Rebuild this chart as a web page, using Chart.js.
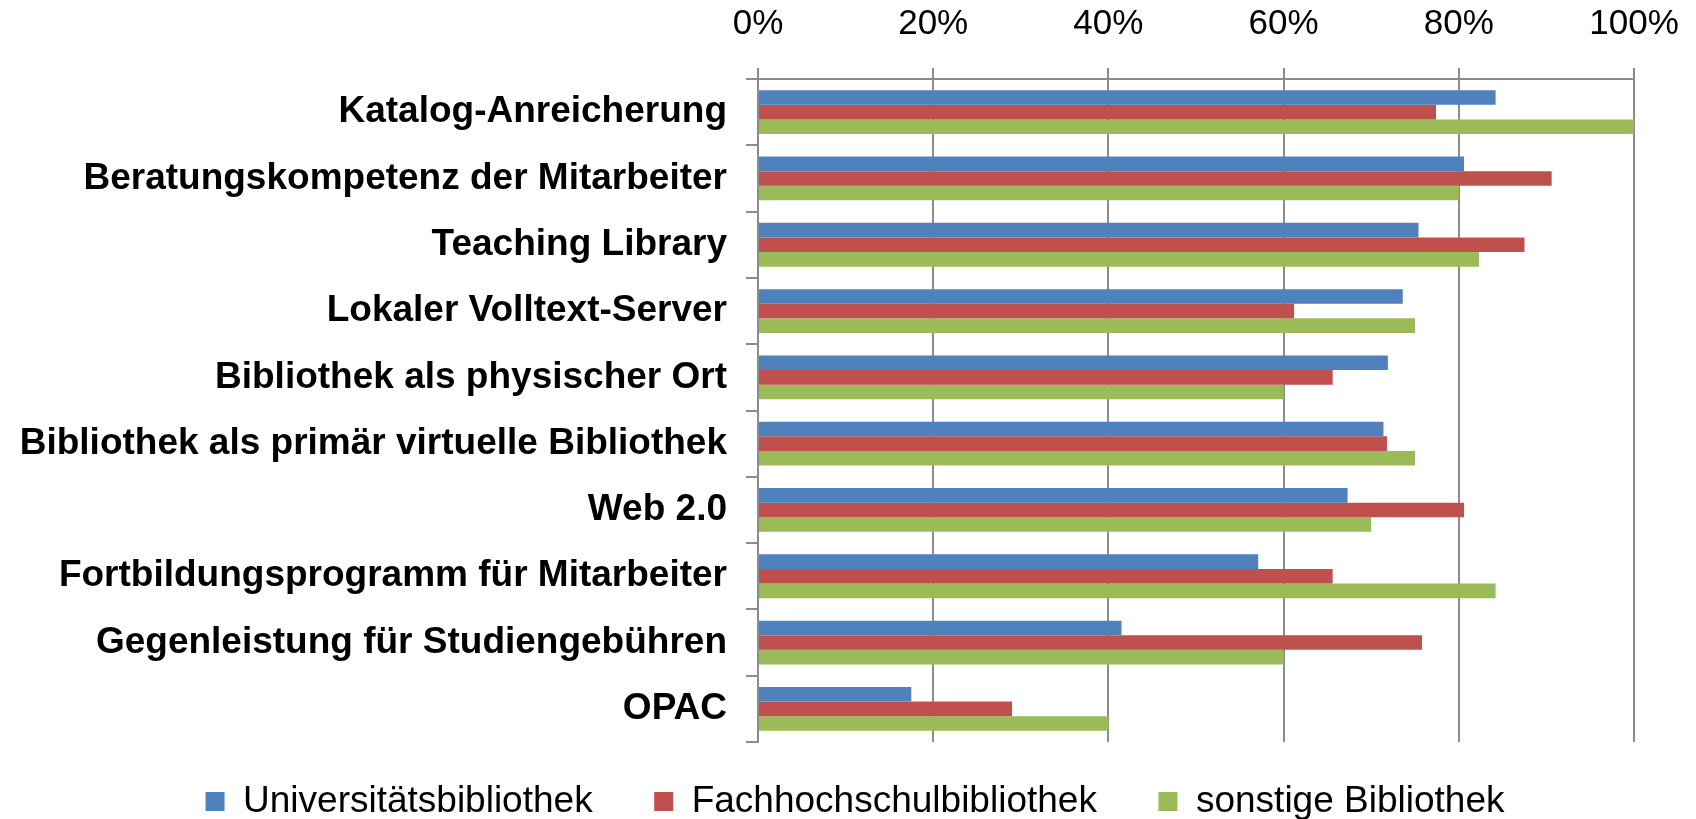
<!DOCTYPE html>
<html>
<head>
<meta charset="utf-8">
<script src="https://cdn.jsdelivr.net/npm/chart.js@4/dist/chart.umd.min.js"></script>
<style>
  body { margin: 0; background: #fff; }
  #wrap { width: 1696px; height: 819px; }
</style>
</head>
<body>
<div id="wrap"><canvas id="bar-chart"></canvas></div>
<script>
// Categories (top to bottom)
const categories = [
  "Katalog-Anreicherung",
  "Beratungskompetenz der Mitarbeiter",
  "Teaching Library",
  "Lokaler Volltext-Server",
  "Bibliothek als physischer Ort",
  "Bibliothek als primär virtuelle Bibliothek",
  "Web 2.0",
  "Fortbildungsprogramm für Mitarbeiter",
  "Gegenleistung für Studiengebühren",
  "OPAC"
];
const seriesNames = ["Universitätsbibliothek", "Fachhochschulbibliothek", "sonstige Bibliothek"];
// Values in percent
const uniValues = [84.2, 80.6, 75.4, 73.6, 71.9, 71.4, 67.3, 57.1, 41.5, 17.5];
const fhValues = [77.4, 90.6, 87.5, 61.2, 65.6, 71.8, 80.6, 65.6, 75.8, 29.0];
const otherValues = [100, 80, 82.3, 75, 60, 75, 70, 84.2, 60, 40];
const xTicks = [0, 20, 40, 60, 80, 100];

const colors = ["#4F81BD", "#C0504D", "#9BBB59"];
const gridColor = "#8C8C8C";

Chart.defaults.font.family = "'Liberation Sans', Arial, sans-serif";
Chart.defaults.color = "#000";

const padLeft = 14;

const ctx = document.getElementById("bar-chart").getContext("2d");
const barChart = new Chart(ctx, {
  type: "bar",
  data: {
    labels: categories,
    datasets: [uniValues, fhValues, otherValues].map((vals, i) => ({
      label: seriesNames[i],
      data: vals,
      backgroundColor: colors[i],
      borderWidth: 0,
      categoryPercentage: 0.66,
      barPercentage: 1.0
    }))
  },
  options: {
    indexAxis: "y",
    responsive: true,
    maintainAspectRatio: false,
    animation: false,
    layout: { padding: { top: 0, right: 0, bottom: -11, left: padLeft } },
    scales: {
      x: {
        position: "top",
        min: 0,
        max: 100,
        afterBuildTicks: (scale) => {
          scale.ticks = xTicks.map((v) => ({ value: v }));
        },
        afterFit: (scale) => {
          scale.height = 79;
          // plot area ends at x = 1634
          scale.paddingLeft = 0;
          scale.paddingRight = 62;
        },
        ticks: {
          padding: 23,
          font: { size: 35 },
          callback: (v) => v + "%"
        },
        grid: { color: gridColor, lineWidth: 2, tickLength: 11 },
        border: { color: gridColor, width: 2 }
      },
      y: {
        // plot area starts at x = 758
        afterFit: (scale) => { scale.width = 758 - padLeft; },
        ticks: {
          padding: 19,
          font: { size: 37, weight: "bold" }
        },
        grid: { drawOnChartArea: false, color: gridColor, lineWidth: 2, tickLength: 12 },
        border: { color: gridColor, width: 2 }
      }
    },
    plugins: {
      legend: {
        position: "bottom",
        labels: {
          boxWidth: 19,
          boxHeight: 19,
          padding: 41,
          font: { size: 37 },
          // a little extra room after each item, like the original legend
          generateLabels: (chart) => {
            const items = Chart.defaults.plugins.legend.labels.generateLabels(chart);
            items.forEach((item, i) => {
              if (i < items.length - 1) item.text += "\u00a0\u00a0";
            });
            return items;
          }
        }
      },
      tooltip: { enabled: false }
    }
  }
});
</script>
</body>
</html>
